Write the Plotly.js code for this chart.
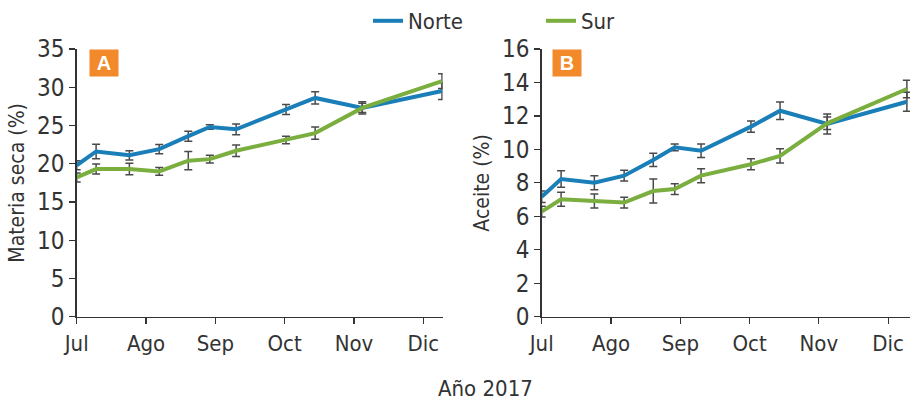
<!DOCTYPE html>
<html>
<head>
<meta charset="utf-8">
<script src="https://cdn.plot.ly/plotly-3.0.1.min.js"></script>
<style>html,body{margin:0;padding:0;background:#fff;}#chart{width:912px;height:401px;}</style>
</head>
<body>
<div id="chart"></div>
<script>
// Month positions (0 = Jul, 1 = Ago, ...)
const monthTicks = [0, 1, 2, 3, 4, 5];
const monthLabels = ["Jul", "Ago", "Sep", "Oct", "Nov", "Dic"];
const sampleX = [0, 0.28, 0.76, 1.19, 1.61, 1.92, 2.30, 3.02, 3.44, 4.12, 5.27];

// Panel A: Materia seca (%)
const secaNorte = [19.8, 21.6, 21.1, 21.9, 23.6, 24.8, 24.5, 27.1, 28.6, 27.3, 29.5];
const secaNorteErr = [0.6, 0.95, 0.6, 0.6, 0.65, 0.3, 0.7, 0.65, 0.8, 0.8, 1.1];
const secaSur = [18.2, 19.3, 19.3, 19.0, 20.4, 20.6, 21.7, 23.1, 24.0, 27.3, 30.8];
const secaSurErr = [0.6, 0.65, 0.75, 0.5, 1.2, 0.5, 0.75, 0.5, 0.8, 0.6, 0.95];

// Panel B: Aceite (%)
const aceiteNorte = [7.17, 8.23, 8.01, 8.43, 9.37, 10.12, 9.92, 11.36, 12.31, 11.52, 12.85];
const aceiteNorteErr = [0.34, 0.5, 0.42, 0.32, 0.4, 0.2, 0.4, 0.33, 0.52, 0.6, 0.57];
const aceiteSur = [6.28, 7.02, 6.92, 6.82, 7.51, 7.63, 8.43, 9.11, 9.61, 11.56, 13.61];
const aceiteSurErr = [0.32, 0.42, 0.42, 0.32, 0.72, 0.32, 0.42, 0.33, 0.43, 0.37, 0.52];

const seriesNames = ["Norte", "Sur"];
const colNorte = "#1a7fb8";
const colSur = "#7aae3e";
const errCol = "#4a4a4a";
const FONT = "DejaVu Sans Condensed, Liberation Sans Narrow, sans-serif";
const txtCol = "#333333";

function tr(x, y, err, name, color, xa, ya, show) {
  return {
    x: x, y: y, name: name, type: "scatter", mode: "lines",
    line: {color: color, width: 4},
    error_y: {type: "data", array: err, visible: true, color: errCol, thickness: 1.5, width: 4},
    xaxis: xa, yaxis: ya, showlegend: show, legendgroup: name
  };
}

const data = [
  tr(sampleX, secaNorte, secaNorteErr, seriesNames[0], colNorte, "x", "y", true),
  tr(sampleX, secaSur, secaSurErr, seriesNames[1], colSur, "x", "y", true),
  tr(sampleX, aceiteNorte, aceiteNorteErr, seriesNames[0], colNorte, "x2", "y2", false),
  tr(sampleX, aceiteSur, aceiteSurErr, seriesNames[1], colSur, "x2", "y2", false)
];

const W = 912, H = 401;
const yDom = [(H - 316.7) / H, (H - 49) / H];

function xaxis(domain, range, anchor) {
  return {
    domain: domain, range: range, anchor: anchor,
    tickvals: monthTicks, ticktext: monthLabels,
    showgrid: false, zeroline: false, showline: true, linecolor: "#333", linewidth: 1.5,
    ticks: "outside", ticklen: 6, tickcolor: "#333", tickwidth: 1.2,
    tickfont: {family: FONT, size: 22, color: txtCol}
  };
}
function yaxis(range, dtick, anchor, title) {
  return {
    domain: yDom, range: range, dtick: dtick, anchor: anchor,
    showgrid: false, zeroline: false, showline: true, linecolor: "#333", linewidth: 1.5,
    ticks: "outside", ticklen: 6, tickcolor: "#333", tickwidth: 1.2,
    tickfont: {family: FONT, size: 24, color: txtCol},
    title: {text: title, font: {family: FONT, size: 21, color: txtCol}, standoff: 6}
  };
}

const layout = {
  width: W, height: H,
  margin: {l: 0, r: 0, t: 0, b: 0},
  paper_bgcolor: "#fff", plot_bgcolor: "#fff",
  showlegend: true,
  legend: {orientation: "h", x: 368 / W, y: 1.0, xanchor: "left", yanchor: "top",
    entrywidth: 128, entrywidthmode: "pixels",
    font: {family: FONT, size: 22, color: txtCol}, bgcolor: "rgba(0,0,0,0)"},
  xaxis: xaxis([76.7 / W, 442.7 / W], [0, 5.28], "y"),
  yaxis: yaxis([0, 35], 5, "x", "Materia seca (%)"),
  xaxis2: xaxis([541.7 / W, 910 / W], [0, 5.315], "y2"),
  yaxis2: yaxis([0, 16], 2, "x2", "Aceite (%)"),
  annotations: [
    {text: "<b>A</b>", x: 103.7 / W, y: (H - 62.9) / H, xref: "paper", yref: "paper",
     showarrow: false, bgcolor: "#f28a2c", font: {family: "Liberation Sans", size: 20, color: "#fff"},
     width: 26, height: 24, xanchor: "center", yanchor: "middle"},
    {text: "<b>B</b>", x: 566.7 / W, y: (H - 62.9) / H, xref: "paper", yref: "paper",
     showarrow: false, bgcolor: "#f28a2c", font: {family: "Liberation Sans", size: 20, color: "#fff"},
     width: 26, height: 24, xanchor: "center", yanchor: "middle"},
    {text: "Año 2017", x: 485 / W, y: (H - 388) / H, xref: "paper", yref: "paper",
     showarrow: false, font: {family: FONT, size: 22, color: txtCol}, xanchor: "center", yanchor: "middle"}
  ]
};

Plotly.newPlot("chart", data, layout, {displayModeBar: false, staticPlot: true});
</script>
</body>
</html>
